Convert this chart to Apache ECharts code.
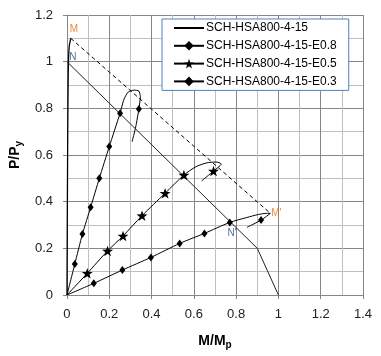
<!DOCTYPE html>
<html>
<head>
<meta charset="utf-8">
<script src="https://cdn.jsdelivr.net/npm/echarts@6/dist/echarts.min.js"></script>
<style>html,body{margin:0;padding:0;background:#fff;}#c{width:381px;height:356px;}</style>
</head>
<body>
<div id="c"></div>
<script>
// ---- data ----
var seriesNames = ['SCH-HSA800-4-15', 'SCH-HSA800-4-15-E0.8', 'SCH-HSA800-4-15-E0.5', 'SCH-HSA800-4-15-E0.3'];

var baseX = [0, 0.003, 0.006, 0.010, 0.018];
var baseY = [0, 0.60, 0.95, 1.06, 1.10];

var e08X = [0, 0.037, 0.073, 0.112, 0.153, 0.200, 0.251, 0.270, 0.290, 0.318, 0.340, 0.347, 0.340, 0.325, 0.308];
var e08Y = [0, 0.133, 0.261, 0.376, 0.500, 0.636, 0.779, 0.840, 0.870, 0.878, 0.874, 0.850, 0.797, 0.720, 0.657];
var e08Mark = [0, 1, 1, 1, 1, 1, 1, 0, 0, 0, 0, 0, 1, 0, 0];

var e05X = [0, 0.096, 0.192, 0.265, 0.355, 0.464, 0.553, 0.610, 0.660, 0.705, 0.730, 0.715, 0.693, 0.637];
var e05Y = [0, 0.093, 0.189, 0.253, 0.340, 0.436, 0.514, 0.550, 0.566, 0.570, 0.561, 0.547, 0.531, 0.489];
var e05Mark = [0, 1, 1, 1, 1, 1, 1, 0, 0, 0, 0, 0, 1, 0];

var e03X = [0, 0.127, 0.262, 0.397, 0.533, 0.650, 0.770, 0.850, 0.905, 0.945, 0.962, 0.918, 0.851];
var e03Y = [0, 0.050, 0.107, 0.161, 0.221, 0.264, 0.311, 0.332, 0.345, 0.350, 0.350, 0.321, 0.290];
var e03Mark = [0, 1, 1, 1, 1, 1, 1, 0, 0, 0, 0, 1, 0];

var interX = [0, 0.900, 1.000];
var interY = [1.000, 0.200, 0];

var dashX = [0.018, 0.962];
var dashY = [1.100, 0.350];

var noteText = ['M', 'N', "M'", "N'"];
var noteX = [0.033, 0.028, 0.990, 0.781];
var noteY = [1.138, 1.020, 0.351, 0.266];
var noteColor = ['#E46C0A', '#1F497D', '#E46C0A', '#1F497D'];

var xTicks = { min: 0, max: 1.4, interval: 0.2 };
var yTicks = { min: 0, max: 1.2, interval: 0.2 };

// ---- build ----
var STAR = 'path://M0,-10L2.35,-3.24L9.51,-3.09L3.80,1.24L5.88,8.09L0,4L-5.88,8.09L-3.80,1.24L-9.51,-3.09L-2.35,-3.24Z';

function pairs(xs, ys) { return xs.map(function (x, i) { return [x, ys[i]]; }); }
function marked(xs, ys, m) {
  return xs.map(function (x, i) {
    var d = { value: [x, ys[i]] };
    if (!m[i]) d.symbol = 'none';
    return d;
  });
}
function fmt(v) { return String(Math.round(v * 10) / 10); }

var lineStyle = { color: '#000', width: 1 };
var chart = echarts.init(document.getElementById('c'), null, { renderer: 'canvas' });
chart.setOption({
  animation: false,
  textStyle: { fontFamily: 'Liberation Sans, Arial, sans-serif' },
  grid: { left: 62, right: 18, top: 15, bottom: 61 },
  legend: {
    orient: 'vertical',
    left: 162, top: 19,
    data: [
      { name: seriesNames[0], itemStyle: { opacity: 0 } },
      { name: seriesNames[1] },
      { name: seriesNames[2] },
      { name: seriesNames[3] }
    ],
    backgroundColor: '#fff',
    borderColor: '#4F81BD', borderWidth: 1,
    padding: [3, 12, 3, 11],
    itemWidth: 30, itemHeight: 12, itemGap: 5.8,
    textStyle: { fontSize: 12, color: '#000', padding: [0, 0, 0, -3] },
    inactiveColor: '#000'
  },
  xAxis: {
    type: 'value', min: xTicks.min, max: xTicks.max, interval: xTicks.interval,
    name: '{a|M/M}{b|p}', nameLocation: 'middle', nameGap: 37,
    nameTextStyle: { rich: {
      a: { fontSize: 14, fontWeight: 'bold', color: '#000' },
      b: { fontSize: 10, fontWeight: 'bold', color: '#000', verticalAlign: 'bottom', padding: [8, 0, 0, 0] } } },
    axisLine: { lineStyle: { color: '#868686' } },
    axisTick: { show: true, length: 4, lineStyle: { color: '#868686' } },
    axisLabel: { fontSize: 13, color: '#222', margin: 13, formatter: fmt },
    splitLine: { lineStyle: { color: '#868686' } },
    minorTick: { show: false, splitNumber: 2 },
    minorSplitLine: { show: true, lineStyle: { color: '#BFBFBF' } }
  },
  yAxis: {
    type: 'value', min: yTicks.min, max: yTicks.max, interval: yTicks.interval,
    name: '{a|P/P}{b|y}', nameLocation: 'middle', nameGap: 40, nameRotate: 90,
    nameTextStyle: { rich: {
      a: { fontSize: 14, fontWeight: 'bold', color: '#000' },
      b: { fontSize: 10, fontWeight: 'bold', color: '#000', verticalAlign: 'bottom', padding: [8, 0, 0, 0] } } },
    axisLine: { show: true, lineStyle: { color: '#868686' } },
    axisTick: { show: true, length: 4, lineStyle: { color: '#868686' } },
    axisLabel: { fontSize: 13, color: '#222', margin: 14, formatter: fmt },
    splitLine: { lineStyle: { color: '#868686' } },
    minorTick: { show: false, splitNumber: 2 },
    minorSplitLine: { show: true, lineStyle: { color: '#BFBFBF' } }
  },
  series: [
    { name: seriesNames[0], type: 'line', data: pairs(baseX, baseY), symbol: 'none', smooth: 0.3,
      lineStyle: { color: '#000', width: 1.3 }, itemStyle: { color: '#000' } },
    { name: seriesNames[1], type: 'line', data: marked(e08X, e08Y, e08Mark), symbol: 'diamond', symbolSize: [6, 8],
      showAllSymbol: true, smooth: 0.2, lineStyle: lineStyle, itemStyle: { color: '#000' } },
    { name: seriesNames[2], type: 'line', data: marked(e05X, e05Y, e05Mark), symbol: STAR, symbolSize: 11, symbolKeepAspect: true,
      showAllSymbol: true, smooth: 0.25, lineStyle: lineStyle, itemStyle: { color: '#000' } },
    { name: seriesNames[3], type: 'line', data: marked(e03X, e03Y, e03Mark), symbol: 'diamond', symbolSize: [6, 8],
      showAllSymbol: true, smooth: 0.25, lineStyle: lineStyle, itemStyle: { color: '#000' } },
    { name: 'interaction', type: 'line', data: pairs(interX, interY), symbol: 'none',
      lineStyle: { color: '#222', width: 1 } },
    { name: 'bound', type: 'line', data: pairs(dashX, dashY), symbol: 'none',
      lineStyle: { color: '#000', width: 1, type: [4, 3] } },
    { name: 'notes', type: 'scatter', symbolSize: 0, silent: true,
      data: noteText.map(function (t, i) {
        return { value: [noteX[i], noteY[i]],
          label: { show: true, position: 'inside', formatter: t, fontSize: 10, color: noteColor[i] } };
      }) }
  ]
});
</script>
</body>
</html>
